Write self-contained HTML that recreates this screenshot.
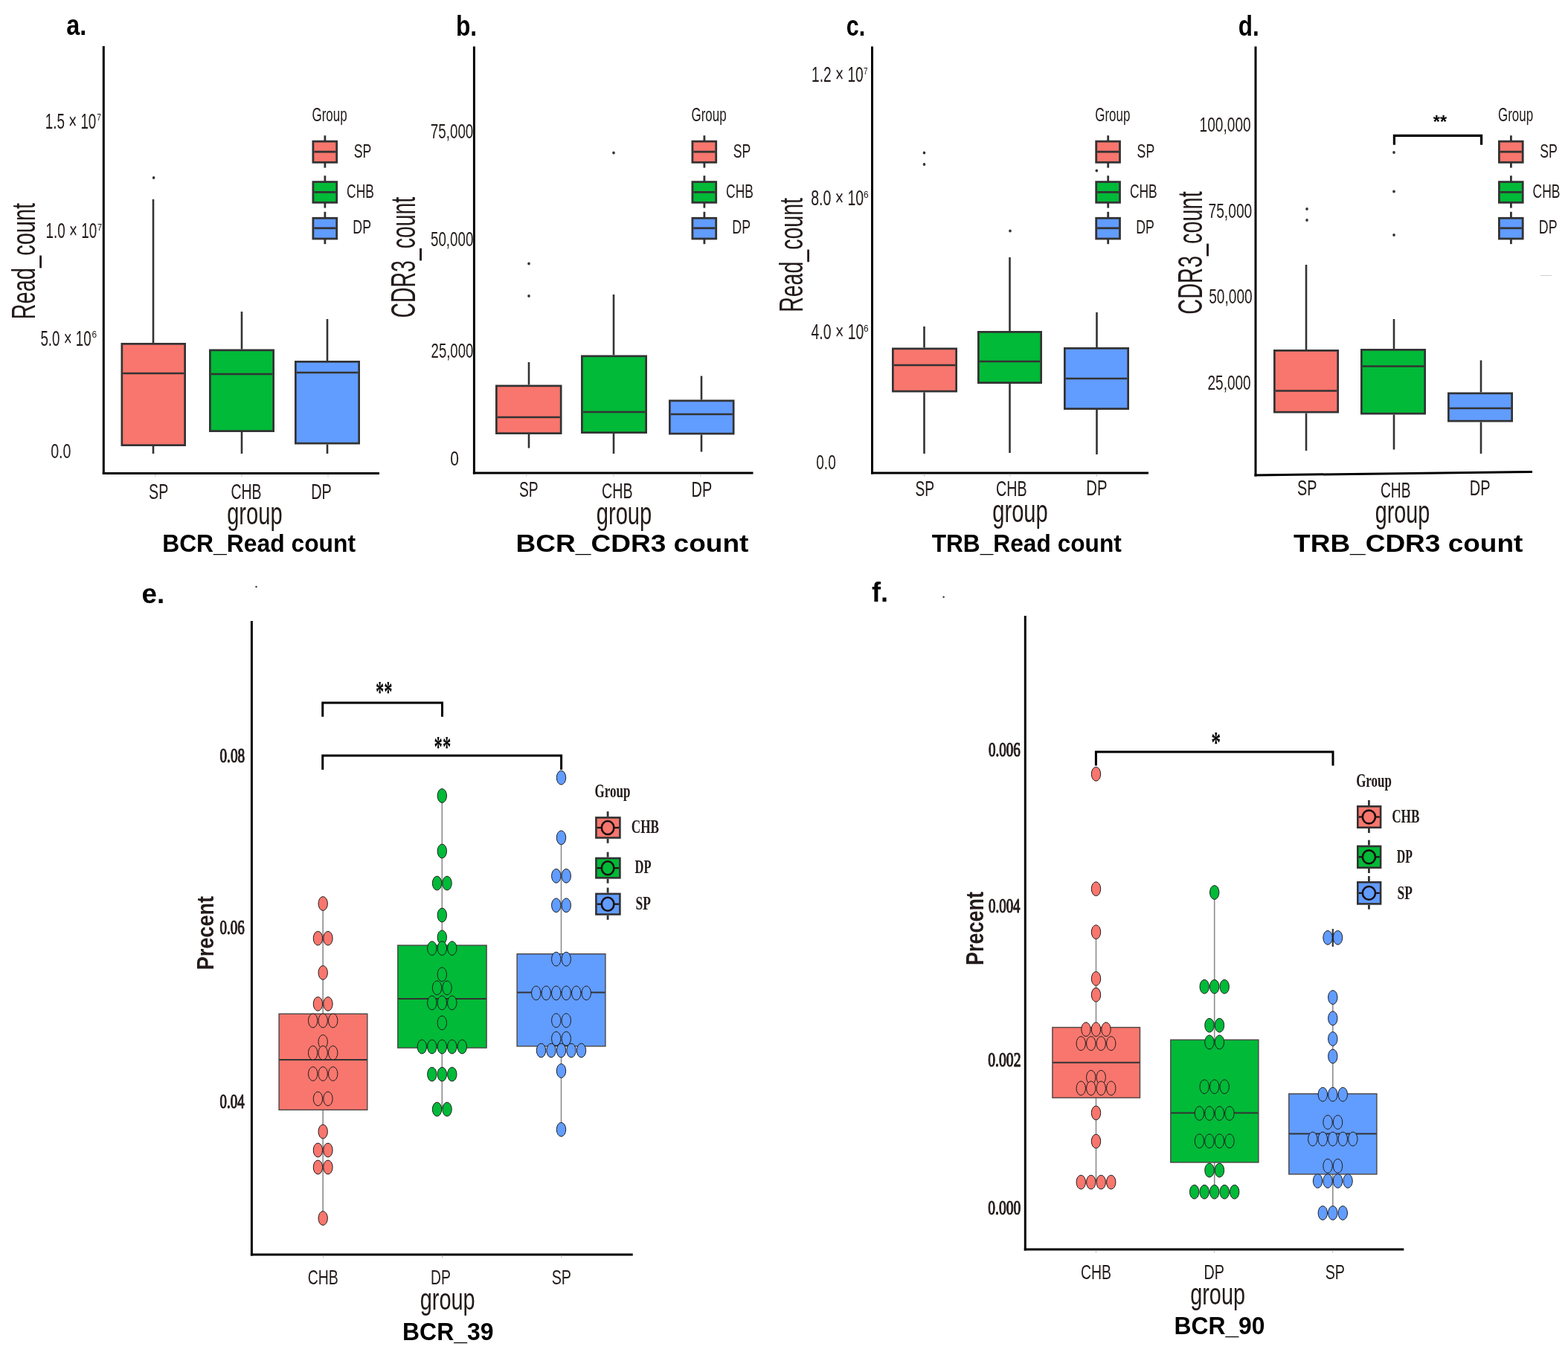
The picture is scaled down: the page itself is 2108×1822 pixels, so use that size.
<!DOCTYPE html>
<html><head><meta charset="utf-8"><title>Figure</title>
<style>html,body{margin:0;padding:0;background:#fff;}svg{display:block;}</style></head>
<body><svg width="2108" height="1822" viewBox="0 0 2108 1822">
<rect width="2108" height="1822" fill="#fff"/>
<text transform="translate(89.15 46.9) scale(0.8401 1)" font-family="'Liberation Sans', Arial, sans-serif" font-weight="bold" font-size="38.5" fill="#000">a.</text>
<line x1="139.3" y1="62" x2="139.3" y2="638" stroke="#000" stroke-width="3" stroke-linecap="butt"/>
<line x1="137.8" y1="636.5" x2="510" y2="636.5" stroke="#000" stroke-width="3" stroke-linecap="butt"/>
<line x1="208.7" y1="638" x2="208.7" y2="641" stroke="#bbbbbb" stroke-width="1" stroke-linecap="butt"/>
<line x1="325" y1="638" x2="325" y2="641" stroke="#bbbbbb" stroke-width="1" stroke-linecap="butt"/>
<line x1="441" y1="638" x2="441" y2="641" stroke="#bbbbbb" stroke-width="1" stroke-linecap="butt"/>
<text transform="translate(60.87 172.6) scale(0.6394 1)" font-family="'Liberation Sans', Arial, sans-serif" font-weight="normal" font-size="29.4" fill="#231a1a">1.5 × 10</text>
<text transform="translate(130.27 161.8) scale(0.7774 1)" font-family="'Liberation Sans', Arial, sans-serif" font-weight="normal" font-size="13.3" fill="#231a1a">7</text>
<text transform="translate(61.56 320.3) scale(0.6413 1)" font-family="'Liberation Sans', Arial, sans-serif" font-weight="normal" font-size="29.4" fill="#231a1a">1.0 × 10</text>
<text transform="translate(130.94 309.5) scale(0.8270 1)" font-family="'Liberation Sans', Arial, sans-serif" font-weight="normal" font-size="13.3" fill="#231a1a">7</text>
<text transform="translate(54.45 464.6) scale(0.6377 1)" font-family="'Liberation Sans', Arial, sans-serif" font-weight="normal" font-size="29.4" fill="#231a1a">5.0 × 10</text>
<text transform="translate(123.39 453.8) scale(0.8962 1)" font-family="'Liberation Sans', Arial, sans-serif" font-weight="normal" font-size="13.3" fill="#231a1a">6</text>
<text transform="translate(68.13 615.5) scale(0.6924 1)" font-family="'Liberation Sans', Arial, sans-serif" font-weight="normal" font-size="28.4" fill="#231a1a">0.0</text>
<text transform="translate(47 429.38) rotate(-90) scale(0.6410 1)" font-family="'Liberation Sans', Arial, sans-serif" font-weight="normal" font-size="45.3" fill="#231a1a">Read_count</text>
<text transform="translate(200.11 670.8) scale(0.6598 1)" font-family="'Liberation Sans', Arial, sans-serif" font-weight="normal" font-size="29.8" fill="#231a1a">SP</text>
<text transform="translate(310.51 670.8) scale(0.6535 1)" font-family="'Liberation Sans', Arial, sans-serif" font-weight="normal" font-size="29.8" fill="#231a1a">CHB</text>
<text transform="translate(418.17 670.8) scale(0.6661 1)" font-family="'Liberation Sans', Arial, sans-serif" font-weight="normal" font-size="29.8" fill="#231a1a">DP</text>
<text transform="translate(305.18 704.6) scale(0.6801 1)" font-family="'Liberation Sans', Arial, sans-serif" font-weight="normal" font-size="42.8" fill="#231a1a">group</text>
<text transform="translate(218.17 741.5) scale(0.9557 1)" font-family="'Liberation Sans', Arial, sans-serif" font-weight="bold" font-size="33.3" fill="#000">BCR_Read count</text>
<line x1="206" y1="268" x2="206" y2="461" stroke="#333333" stroke-width="2.6" stroke-linecap="butt"/>
<line x1="206" y1="600" x2="206" y2="610" stroke="#333333" stroke-width="2.6" stroke-linecap="butt"/>
<rect x="163.85" y="462.35" width="84.8" height="136.3" fill="#F8766D" stroke="#333333" stroke-width="2.7"/>
<line x1="165.2" y1="502" x2="247.3" y2="502" stroke="#333333" stroke-width="2.7" stroke-linecap="butt"/>
<ellipse cx="206.6" cy="239" rx="1.8" ry="2.1" fill="#333333"/>
<line x1="325" y1="419" x2="325" y2="469.5" stroke="#333333" stroke-width="2.6" stroke-linecap="butt"/>
<line x1="325" y1="581" x2="325" y2="610" stroke="#333333" stroke-width="2.6" stroke-linecap="butt"/>
<rect x="282.35" y="470.85" width="85.3" height="108.8" fill="#00BA38" stroke="#333333" stroke-width="2.7"/>
<line x1="283.7" y1="503" x2="366.3" y2="503" stroke="#333333" stroke-width="2.7" stroke-linecap="butt"/>
<line x1="440" y1="429" x2="440" y2="485" stroke="#333333" stroke-width="2.6" stroke-linecap="butt"/>
<line x1="440" y1="597.5" x2="440" y2="610" stroke="#333333" stroke-width="2.6" stroke-linecap="butt"/>
<rect x="397.35" y="486.35" width="85.3" height="109.8" fill="#619CFF" stroke="#333333" stroke-width="2.7"/>
<line x1="398.7" y1="501" x2="481.3" y2="501" stroke="#333333" stroke-width="2.7" stroke-linecap="butt"/>
<text transform="translate(419.45 163.4) scale(0.6708 1)" font-family="'Liberation Sans', Arial, sans-serif" font-weight="normal" font-size="25.3" fill="#231a1a">Group</text>
<line x1="436.9" y1="182.2" x2="436.9" y2="219.7" stroke="#333333" stroke-width="2.8" stroke-linecap="butt"/>
<line x1="436.9" y1="188.7" x2="436.9" y2="225.6" stroke="#333333" stroke-width="2.8" stroke-linecap="butt"/>
<rect x="420.9" y="190.1" width="31.8" height="28.2" fill="#F8766D" stroke="#333333" stroke-width="2.8"/>
<line x1="422.3" y1="204.1" x2="451.3" y2="204.1" stroke="#333333" stroke-width="2.8" stroke-linecap="butt"/>
<text transform="translate(475.8 211.5) scale(0.7004 1)" font-family="'Liberation Sans', Arial, sans-serif" font-weight="normal" font-size="25.3" fill="#231a1a">SP</text>
<line x1="436.9" y1="236.2" x2="436.9" y2="273.7" stroke="#333333" stroke-width="2.8" stroke-linecap="butt"/>
<line x1="436.9" y1="243.2" x2="436.9" y2="279.6" stroke="#333333" stroke-width="2.8" stroke-linecap="butt"/>
<rect x="420.9" y="244.6" width="31.8" height="27.7" fill="#00BA38" stroke="#333333" stroke-width="2.8"/>
<line x1="422.3" y1="258.4" x2="451.3" y2="258.4" stroke="#333333" stroke-width="2.8" stroke-linecap="butt"/>
<text transform="translate(466.11 266.1) scale(0.6890 1)" font-family="'Liberation Sans', Arial, sans-serif" font-weight="normal" font-size="25.3" fill="#231a1a">CHB</text>
<line x1="436.9" y1="284.8" x2="436.9" y2="322.4" stroke="#333333" stroke-width="2.8" stroke-linecap="butt"/>
<line x1="436.9" y1="291.9" x2="436.9" y2="328.2" stroke="#333333" stroke-width="2.8" stroke-linecap="butt"/>
<rect x="420.9" y="293.3" width="31.8" height="27.7" fill="#619CFF" stroke="#333333" stroke-width="2.8"/>
<line x1="422.3" y1="306.8" x2="451.3" y2="306.8" stroke="#333333" stroke-width="2.8" stroke-linecap="butt"/>
<text transform="translate(474.34 313.6) scale(0.7027 1)" font-family="'Liberation Sans', Arial, sans-serif" font-weight="normal" font-size="25.3" fill="#231a1a">DP</text>
<text transform="translate(612.9 47.5) scale(0.8269 1)" font-family="'Liberation Sans', Arial, sans-serif" font-weight="bold" font-size="38.5" fill="#000">b.</text>
<line x1="637.4" y1="62.5" x2="637.4" y2="637.5" stroke="#000" stroke-width="3" stroke-linecap="butt"/>
<line x1="635.9" y1="636" x2="1012.5" y2="636" stroke="#000" stroke-width="3" stroke-linecap="butt"/>
<line x1="708" y1="637.5" x2="708" y2="640.5" stroke="#bbbbbb" stroke-width="1" stroke-linecap="butt"/>
<line x1="825" y1="637.5" x2="825" y2="640.5" stroke="#bbbbbb" stroke-width="1" stroke-linecap="butt"/>
<line x1="942" y1="637.5" x2="942" y2="640.5" stroke="#bbbbbb" stroke-width="1" stroke-linecap="butt"/>
<text transform="translate(578.84 185.5) scale(0.6619 1)" font-family="'Liberation Sans', Arial, sans-serif" font-weight="normal" font-size="28.4" fill="#231a1a">75,000</text>
<text transform="translate(579.05 330.9) scale(0.6594 1)" font-family="'Liberation Sans', Arial, sans-serif" font-weight="normal" font-size="28.4" fill="#231a1a">50,000</text>
<text transform="translate(579.57 480.5) scale(0.6534 1)" font-family="'Liberation Sans', Arial, sans-serif" font-weight="normal" font-size="28.4" fill="#231a1a">25,000</text>
<text transform="translate(605.18 626) scale(0.7366 1)" font-family="'Liberation Sans', Arial, sans-serif" font-weight="normal" font-size="28.4" fill="#231a1a">0</text>
<text transform="translate(557.5 427.44) rotate(-90) scale(0.6203 1)" font-family="'Liberation Sans', Arial, sans-serif" font-weight="normal" font-size="45.8" fill="#231a1a">CDR3_count</text>
<text transform="translate(697.88 667.5) scale(0.6449 1)" font-family="'Liberation Sans', Arial, sans-serif" font-weight="normal" font-size="29.8" fill="#231a1a">SP</text>
<text transform="translate(809 670) scale(0.6602 1)" font-family="'Liberation Sans', Arial, sans-serif" font-weight="normal" font-size="29.8" fill="#231a1a">CHB</text>
<text transform="translate(929.62 667.5) scale(0.6688 1)" font-family="'Liberation Sans', Arial, sans-serif" font-weight="normal" font-size="29.8" fill="#231a1a">DP</text>
<text transform="translate(801.78 704.6) scale(0.6801 1)" font-family="'Liberation Sans', Arial, sans-serif" font-weight="normal" font-size="42.8" fill="#231a1a">group</text>
<text transform="translate(693.52 741.5) scale(1.1128 1)" font-family="'Liberation Sans', Arial, sans-serif" font-weight="bold" font-size="33.3" fill="#000">BCR_CDR3 count</text>
<line x1="711" y1="487" x2="711" y2="517.5" stroke="#333333" stroke-width="2.6" stroke-linecap="butt"/>
<line x1="711" y1="584" x2="711" y2="602.5" stroke="#333333" stroke-width="2.6" stroke-linecap="butt"/>
<rect x="667.35" y="518.85" width="86.8" height="63.8" fill="#F8766D" stroke="#333333" stroke-width="2.7"/>
<line x1="668.7" y1="561" x2="752.8" y2="561" stroke="#333333" stroke-width="2.7" stroke-linecap="butt"/>
<ellipse cx="711" cy="354.5" rx="1.8" ry="2.1" fill="#333333"/>
<ellipse cx="711" cy="398" rx="1.8" ry="2.1" fill="#333333"/>
<line x1="825" y1="396" x2="825" y2="477.5" stroke="#333333" stroke-width="2.6" stroke-linecap="butt"/>
<line x1="825" y1="583" x2="825" y2="610" stroke="#333333" stroke-width="2.6" stroke-linecap="butt"/>
<rect x="782.35" y="478.85" width="86.3" height="102.8" fill="#00BA38" stroke="#333333" stroke-width="2.7"/>
<line x1="783.7" y1="554" x2="867.3" y2="554" stroke="#333333" stroke-width="2.7" stroke-linecap="butt"/>
<ellipse cx="825" cy="205.5" rx="1.8" ry="2.1" fill="#333333"/>
<line x1="943" y1="505.5" x2="943" y2="537.5" stroke="#333333" stroke-width="2.6" stroke-linecap="butt"/>
<line x1="943" y1="584.5" x2="943" y2="607.5" stroke="#333333" stroke-width="2.6" stroke-linecap="butt"/>
<rect x="900.35" y="538.85" width="85.8" height="44.3" fill="#619CFF" stroke="#333333" stroke-width="2.7"/>
<line x1="901.7" y1="557" x2="984.8" y2="557" stroke="#333333" stroke-width="2.7" stroke-linecap="butt"/>
<text transform="translate(929.45 163.4) scale(0.6708 1)" font-family="'Liberation Sans', Arial, sans-serif" font-weight="normal" font-size="25.3" fill="#231a1a">Group</text>
<line x1="946.9" y1="182.2" x2="946.9" y2="219.7" stroke="#333333" stroke-width="2.8" stroke-linecap="butt"/>
<line x1="946.9" y1="188.7" x2="946.9" y2="225.6" stroke="#333333" stroke-width="2.8" stroke-linecap="butt"/>
<rect x="930.9" y="190.1" width="31.8" height="28.2" fill="#F8766D" stroke="#333333" stroke-width="2.8"/>
<line x1="932.3" y1="204.1" x2="961.3" y2="204.1" stroke="#333333" stroke-width="2.8" stroke-linecap="butt"/>
<text transform="translate(985.8 211.5) scale(0.7004 1)" font-family="'Liberation Sans', Arial, sans-serif" font-weight="normal" font-size="25.3" fill="#231a1a">SP</text>
<line x1="946.9" y1="236.2" x2="946.9" y2="273.7" stroke="#333333" stroke-width="2.8" stroke-linecap="butt"/>
<line x1="946.9" y1="243.2" x2="946.9" y2="279.6" stroke="#333333" stroke-width="2.8" stroke-linecap="butt"/>
<rect x="930.9" y="244.6" width="31.8" height="27.7" fill="#00BA38" stroke="#333333" stroke-width="2.8"/>
<line x1="932.3" y1="258.4" x2="961.3" y2="258.4" stroke="#333333" stroke-width="2.8" stroke-linecap="butt"/>
<text transform="translate(976.11 266.1) scale(0.6890 1)" font-family="'Liberation Sans', Arial, sans-serif" font-weight="normal" font-size="25.3" fill="#231a1a">CHB</text>
<line x1="946.9" y1="284.8" x2="946.9" y2="322.4" stroke="#333333" stroke-width="2.8" stroke-linecap="butt"/>
<line x1="946.9" y1="291.9" x2="946.9" y2="328.2" stroke="#333333" stroke-width="2.8" stroke-linecap="butt"/>
<rect x="930.9" y="293.3" width="31.8" height="27.7" fill="#619CFF" stroke="#333333" stroke-width="2.8"/>
<line x1="932.3" y1="306.8" x2="961.3" y2="306.8" stroke="#333333" stroke-width="2.8" stroke-linecap="butt"/>
<text transform="translate(984.34 313.6) scale(0.7027 1)" font-family="'Liberation Sans', Arial, sans-serif" font-weight="normal" font-size="25.3" fill="#231a1a">DP</text>
<text transform="translate(1137.82 47.5) scale(0.7870 1)" font-family="'Liberation Sans', Arial, sans-serif" font-weight="bold" font-size="38.5" fill="#000">c.</text>
<line x1="1172.5" y1="62.5" x2="1172.5" y2="637.5" stroke="#000" stroke-width="3" stroke-linecap="butt"/>
<line x1="1171" y1="636" x2="1544" y2="636" stroke="#000" stroke-width="3" stroke-linecap="butt"/>
<line x1="1242.5" y1="637.5" x2="1242.5" y2="640.5" stroke="#bbbbbb" stroke-width="1" stroke-linecap="butt"/>
<line x1="1358" y1="637.5" x2="1358" y2="640.5" stroke="#bbbbbb" stroke-width="1" stroke-linecap="butt"/>
<line x1="1474.5" y1="637.5" x2="1474.5" y2="640.5" stroke="#bbbbbb" stroke-width="1" stroke-linecap="butt"/>
<text transform="translate(1091.04 110) scale(0.6510 1)" font-family="'Liberation Sans', Arial, sans-serif" font-weight="normal" font-size="29.4" fill="#231a1a">1.2 × 10</text>
<text transform="translate(1160.99 99.5) scale(0.7443 1)" font-family="'Liberation Sans', Arial, sans-serif" font-weight="normal" font-size="13.3" fill="#231a1a">7</text>
<text transform="translate(1090.15 276) scale(0.6641 1)" font-family="'Liberation Sans', Arial, sans-serif" font-weight="normal" font-size="29.4" fill="#231a1a">8.0 × 10</text>
<text transform="translate(1160.89 265.5) scale(0.8962 1)" font-family="'Liberation Sans', Arial, sans-serif" font-weight="normal" font-size="13.3" fill="#231a1a">6</text>
<text transform="translate(1090.55 456) scale(0.6603 1)" font-family="'Liberation Sans', Arial, sans-serif" font-weight="normal" font-size="29.4" fill="#231a1a">4.0 × 10</text>
<text transform="translate(1160.89 445.5) scale(0.8962 1)" font-family="'Liberation Sans', Arial, sans-serif" font-weight="normal" font-size="13.3" fill="#231a1a">6</text>
<text transform="translate(1097.26 630.5) scale(0.6709 1)" font-family="'Liberation Sans', Arial, sans-serif" font-weight="normal" font-size="28.4" fill="#231a1a">0.0</text>
<text transform="translate(1078.75 419.84) rotate(-90) scale(0.6541 1)" font-family="'Liberation Sans', Arial, sans-serif" font-weight="normal" font-size="43.6" fill="#231a1a">Read_count</text>
<text transform="translate(1230.38 666.75) scale(0.6449 1)" font-family="'Liberation Sans', Arial, sans-serif" font-weight="normal" font-size="29.8" fill="#231a1a">SP</text>
<text transform="translate(1339 666.75) scale(0.6602 1)" font-family="'Liberation Sans', Arial, sans-serif" font-weight="normal" font-size="29.8" fill="#231a1a">CHB</text>
<text transform="translate(1460.33 666) scale(0.6822 1)" font-family="'Liberation Sans', Arial, sans-serif" font-weight="normal" font-size="29.8" fill="#231a1a">DP</text>
<text transform="translate(1334.28 702) scale(0.6801 1)" font-family="'Liberation Sans', Arial, sans-serif" font-weight="normal" font-size="42.8" fill="#231a1a">group</text>
<text transform="translate(1252.64 741.5) scale(0.9514 1)" font-family="'Liberation Sans', Arial, sans-serif" font-weight="bold" font-size="33.3" fill="#000">TRB_Read count</text>
<line x1="1242.5" y1="439" x2="1242.5" y2="467.5" stroke="#333333" stroke-width="2.6" stroke-linecap="butt"/>
<line x1="1242.5" y1="527.5" x2="1242.5" y2="610" stroke="#333333" stroke-width="2.6" stroke-linecap="butt"/>
<rect x="1200.35" y="468.85" width="85.3" height="57.3" fill="#F8766D" stroke="#333333" stroke-width="2.7"/>
<line x1="1201.7" y1="491" x2="1284.3" y2="491" stroke="#333333" stroke-width="2.7" stroke-linecap="butt"/>
<ellipse cx="1242.5" cy="205.5" rx="1.8" ry="2.1" fill="#333333"/>
<ellipse cx="1242.5" cy="221" rx="1.8" ry="2.1" fill="#333333"/>
<line x1="1357.5" y1="346" x2="1357.5" y2="445" stroke="#333333" stroke-width="2.6" stroke-linecap="butt"/>
<line x1="1357.5" y1="516" x2="1357.5" y2="609" stroke="#333333" stroke-width="2.6" stroke-linecap="butt"/>
<rect x="1315.35" y="446.35" width="84.3" height="68.3" fill="#00BA38" stroke="#333333" stroke-width="2.7"/>
<line x1="1316.7" y1="486" x2="1398.3" y2="486" stroke="#333333" stroke-width="2.7" stroke-linecap="butt"/>
<ellipse cx="1358" cy="310.5" rx="1.8" ry="2.1" fill="#333333"/>
<line x1="1474.5" y1="420" x2="1474.5" y2="467" stroke="#333333" stroke-width="2.6" stroke-linecap="butt"/>
<line x1="1474.5" y1="551" x2="1474.5" y2="611" stroke="#333333" stroke-width="2.6" stroke-linecap="butt"/>
<rect x="1431.35" y="468.35" width="85.3" height="81.3" fill="#619CFF" stroke="#333333" stroke-width="2.7"/>
<line x1="1432.7" y1="509" x2="1515.3" y2="509" stroke="#333333" stroke-width="2.7" stroke-linecap="butt"/>
<ellipse cx="1474.3" cy="229.5" rx="1.8" ry="2.1" fill="#333333"/>
<text transform="translate(1472.25 163.4) scale(0.6708 1)" font-family="'Liberation Sans', Arial, sans-serif" font-weight="normal" font-size="25.3" fill="#231a1a">Group</text>
<line x1="1489.7" y1="182.2" x2="1489.7" y2="219.7" stroke="#333333" stroke-width="2.8" stroke-linecap="butt"/>
<line x1="1489.7" y1="188.7" x2="1489.7" y2="225.6" stroke="#333333" stroke-width="2.8" stroke-linecap="butt"/>
<rect x="1473.7" y="190.1" width="31.8" height="28.2" fill="#F8766D" stroke="#333333" stroke-width="2.8"/>
<line x1="1475.1" y1="204.1" x2="1504.1" y2="204.1" stroke="#333333" stroke-width="2.8" stroke-linecap="butt"/>
<text transform="translate(1528.6 211.5) scale(0.7004 1)" font-family="'Liberation Sans', Arial, sans-serif" font-weight="normal" font-size="25.3" fill="#231a1a">SP</text>
<line x1="1489.7" y1="236.2" x2="1489.7" y2="273.7" stroke="#333333" stroke-width="2.8" stroke-linecap="butt"/>
<line x1="1489.7" y1="243.2" x2="1489.7" y2="279.6" stroke="#333333" stroke-width="2.8" stroke-linecap="butt"/>
<rect x="1473.7" y="244.6" width="31.8" height="27.7" fill="#00BA38" stroke="#333333" stroke-width="2.8"/>
<line x1="1475.1" y1="258.4" x2="1504.1" y2="258.4" stroke="#333333" stroke-width="2.8" stroke-linecap="butt"/>
<text transform="translate(1518.91 266.1) scale(0.6890 1)" font-family="'Liberation Sans', Arial, sans-serif" font-weight="normal" font-size="25.3" fill="#231a1a">CHB</text>
<line x1="1489.7" y1="284.8" x2="1489.7" y2="322.4" stroke="#333333" stroke-width="2.8" stroke-linecap="butt"/>
<line x1="1489.7" y1="291.9" x2="1489.7" y2="328.2" stroke="#333333" stroke-width="2.8" stroke-linecap="butt"/>
<rect x="1473.7" y="293.3" width="31.8" height="27.7" fill="#619CFF" stroke="#333333" stroke-width="2.8"/>
<line x1="1475.1" y1="306.8" x2="1504.1" y2="306.8" stroke="#333333" stroke-width="2.8" stroke-linecap="butt"/>
<text transform="translate(1527.14 313.6) scale(0.7027 1)" font-family="'Liberation Sans', Arial, sans-serif" font-weight="normal" font-size="25.3" fill="#231a1a">DP</text>
<text transform="translate(1664.71 47.5) scale(0.8171 1)" font-family="'Liberation Sans', Arial, sans-serif" font-weight="bold" font-size="38.5" fill="#000">d.</text>
<line x1="1688" y1="62.5" x2="1688" y2="640.5" stroke="#000" stroke-width="3" stroke-linecap="butt"/>
<line x1="1686.5" y1="639" x2="2060" y2="634.5" stroke="#000" stroke-width="3" stroke-linecap="butt"/>
<text transform="translate(1612.54 177) scale(0.6741 1)" font-family="'Liberation Sans', Arial, sans-serif" font-weight="normal" font-size="28.4" fill="#231a1a">100,000</text>
<text transform="translate(1624.52 292.5) scale(0.6762 1)" font-family="'Liberation Sans', Arial, sans-serif" font-weight="normal" font-size="28.4" fill="#231a1a">75,000</text>
<text transform="translate(1625.23 408) scale(0.6736 1)" font-family="'Liberation Sans', Arial, sans-serif" font-weight="normal" font-size="28.4" fill="#231a1a">50,000</text>
<text transform="translate(1623.54 523.75) scale(0.6700 1)" font-family="'Liberation Sans', Arial, sans-serif" font-weight="normal" font-size="28.4" fill="#231a1a">25,000</text>
<text transform="translate(1615.5 422.72) rotate(-90) scale(0.6282 1)" font-family="'Liberation Sans', Arial, sans-serif" font-weight="normal" font-size="46" fill="#231a1a">CDR3_count</text>
<text transform="translate(1744.1 666) scale(0.6653 1)" font-family="'Liberation Sans', Arial, sans-serif" font-weight="normal" font-size="29.8" fill="#231a1a">SP</text>
<text transform="translate(1856.03 669) scale(0.6435 1)" font-family="'Liberation Sans', Arial, sans-serif" font-weight="normal" font-size="29.8" fill="#231a1a">CHB</text>
<text transform="translate(1975.87 666) scale(0.6688 1)" font-family="'Liberation Sans', Arial, sans-serif" font-weight="normal" font-size="29.8" fill="#231a1a">DP</text>
<text transform="translate(1848.79 703) scale(0.6706 1)" font-family="'Liberation Sans', Arial, sans-serif" font-weight="normal" font-size="42.8" fill="#231a1a">group</text>
<text transform="translate(1739.08 741.5) scale(1.1112 1)" font-family="'Liberation Sans', Arial, sans-serif" font-weight="bold" font-size="33.3" fill="#000">TRB_CDR3 count</text>
<line x1="1756" y1="356" x2="1756" y2="470" stroke="#333333" stroke-width="2.6" stroke-linecap="butt"/>
<line x1="1756" y1="555.5" x2="1756" y2="606" stroke="#333333" stroke-width="2.6" stroke-linecap="butt"/>
<rect x="1713.35" y="471.35" width="85.3" height="82.8" fill="#F8766D" stroke="#333333" stroke-width="2.7"/>
<line x1="1714.7" y1="525.5" x2="1797.3" y2="525.5" stroke="#333333" stroke-width="2.7" stroke-linecap="butt"/>
<ellipse cx="1757" cy="281" rx="1.8" ry="2.1" fill="#333333"/>
<ellipse cx="1757" cy="296" rx="1.8" ry="2.1" fill="#333333"/>
<line x1="1874" y1="429" x2="1874" y2="469" stroke="#333333" stroke-width="2.6" stroke-linecap="butt"/>
<line x1="1874" y1="557.5" x2="1874" y2="604.5" stroke="#333333" stroke-width="2.6" stroke-linecap="butt"/>
<rect x="1830.35" y="470.35" width="85.3" height="85.8" fill="#00BA38" stroke="#333333" stroke-width="2.7"/>
<line x1="1831.7" y1="492.5" x2="1914.3" y2="492.5" stroke="#333333" stroke-width="2.7" stroke-linecap="butt"/>
<ellipse cx="1874" cy="205" rx="1.8" ry="2.1" fill="#333333"/>
<ellipse cx="1874" cy="257.5" rx="1.8" ry="2.1" fill="#333333"/>
<ellipse cx="1874" cy="316" rx="1.8" ry="2.1" fill="#333333"/>
<line x1="1991" y1="484.5" x2="1991" y2="527.5" stroke="#333333" stroke-width="2.6" stroke-linecap="butt"/>
<line x1="1991" y1="567.5" x2="1991" y2="610" stroke="#333333" stroke-width="2.6" stroke-linecap="butt"/>
<rect x="1947.35" y="528.85" width="85.3" height="37.3" fill="#619CFF" stroke="#333333" stroke-width="2.7"/>
<line x1="1948.7" y1="549" x2="2031.3" y2="549" stroke="#333333" stroke-width="2.7" stroke-linecap="butt"/>
<text transform="translate(2013.95 163.4) scale(0.6708 1)" font-family="'Liberation Sans', Arial, sans-serif" font-weight="normal" font-size="25.3" fill="#231a1a">Group</text>
<line x1="2031.4" y1="182.2" x2="2031.4" y2="219.7" stroke="#333333" stroke-width="2.8" stroke-linecap="butt"/>
<line x1="2031.4" y1="188.7" x2="2031.4" y2="225.6" stroke="#333333" stroke-width="2.8" stroke-linecap="butt"/>
<rect x="2015.4" y="190.1" width="31.8" height="28.2" fill="#F8766D" stroke="#333333" stroke-width="2.8"/>
<line x1="2016.8" y1="204.1" x2="2045.8" y2="204.1" stroke="#333333" stroke-width="2.8" stroke-linecap="butt"/>
<text transform="translate(2070.3 211.5) scale(0.7004 1)" font-family="'Liberation Sans', Arial, sans-serif" font-weight="normal" font-size="25.3" fill="#231a1a">SP</text>
<line x1="2031.4" y1="236.2" x2="2031.4" y2="273.7" stroke="#333333" stroke-width="2.8" stroke-linecap="butt"/>
<line x1="2031.4" y1="243.2" x2="2031.4" y2="279.6" stroke="#333333" stroke-width="2.8" stroke-linecap="butt"/>
<rect x="2015.4" y="244.6" width="31.8" height="27.7" fill="#00BA38" stroke="#333333" stroke-width="2.8"/>
<line x1="2016.8" y1="258.4" x2="2045.8" y2="258.4" stroke="#333333" stroke-width="2.8" stroke-linecap="butt"/>
<text transform="translate(2060.61 266.1) scale(0.6890 1)" font-family="'Liberation Sans', Arial, sans-serif" font-weight="normal" font-size="25.3" fill="#231a1a">CHB</text>
<line x1="2031.4" y1="284.8" x2="2031.4" y2="322.4" stroke="#333333" stroke-width="2.8" stroke-linecap="butt"/>
<line x1="2031.4" y1="291.9" x2="2031.4" y2="328.2" stroke="#333333" stroke-width="2.8" stroke-linecap="butt"/>
<rect x="2015.4" y="293.3" width="31.8" height="27.7" fill="#619CFF" stroke="#333333" stroke-width="2.8"/>
<line x1="2016.8" y1="306.8" x2="2045.8" y2="306.8" stroke="#333333" stroke-width="2.8" stroke-linecap="butt"/>
<text transform="translate(2068.84 313.6) scale(0.7027 1)" font-family="'Liberation Sans', Arial, sans-serif" font-weight="normal" font-size="25.3" fill="#231a1a">DP</text>
<path d="M1874.4 194.7 V182.3 H1991.6 V194.7" fill="none" stroke="#000" stroke-width="3.2"/>
<text transform="translate(1926.83 171.63) scale(0.9556 1)" font-family="'Liberation Sans', Arial, sans-serif" font-weight="bold" font-size="24.46" fill="#000">**</text>
<line x1="2071" y1="370.5" x2="2086" y2="370.5" stroke="#cccccc" stroke-width="1" stroke-linecap="butt"/>
<text transform="translate(190.56 811) scale(0.9957 1)" font-family="'Liberation Sans', Arial, sans-serif" font-weight="bold" font-size="37" fill="#000">e.</text>
<circle cx="344.5" cy="789" r="1.2" fill="#333"/>
<line x1="338.4" y1="835" x2="338.4" y2="1688.5" stroke="#000" stroke-width="3" stroke-linecap="butt"/>
<line x1="336.9" y1="1687" x2="850.7" y2="1687" stroke="#000" stroke-width="3" stroke-linecap="butt"/>
<line x1="434.8" y1="1688.5" x2="434.8" y2="1691.5" stroke="#bbbbbb" stroke-width="1" stroke-linecap="butt"/>
<line x1="594.5" y1="1688.5" x2="594.5" y2="1691.5" stroke="#bbbbbb" stroke-width="1" stroke-linecap="butt"/>
<line x1="754.8" y1="1688.5" x2="754.8" y2="1691.5" stroke="#bbbbbb" stroke-width="1" stroke-linecap="butt"/>
<text transform="translate(295.49 1025.4) scale(0.7075 1)" font-family="'Liberation Serif', 'Times New Roman', serif" font-weight="normal" font-size="27.23" fill="#231a1a" stroke="#231a1a" stroke-width="1.2" stroke-linejoin="round">0.08</text>
<text transform="translate(295.59 1256) scale(0.6977 1)" font-family="'Liberation Serif', 'Times New Roman', serif" font-weight="normal" font-size="27.23" fill="#231a1a" stroke="#231a1a" stroke-width="1.2" stroke-linejoin="round">0.06</text>
<text transform="translate(295.6 1489.6) scale(0.6921 1)" font-family="'Liberation Serif', 'Times New Roman', serif" font-weight="normal" font-size="27.23" fill="#231a1a" stroke="#231a1a" stroke-width="1.2" stroke-linejoin="round">0.04</text>
<text transform="translate(286.7 1304.31) rotate(-90) scale(0.8471 1)" font-family="'Liberation Sans', Arial, sans-serif" font-weight="bold" font-size="32" fill="#231a1a">Precent</text>
<text transform="translate(413.71 1727.3) scale(0.6881 1)" font-family="'Liberation Sans', Arial, sans-serif" font-weight="normal" font-size="28.3" fill="#231a1a">CHB</text>
<text transform="translate(579.11 1727.3) scale(0.6845 1)" font-family="'Liberation Sans', Arial, sans-serif" font-weight="normal" font-size="28.3" fill="#231a1a">DP</text>
<text transform="translate(741.7 1727.3) scale(0.6977 1)" font-family="'Liberation Sans', Arial, sans-serif" font-weight="normal" font-size="28.3" fill="#231a1a">SP</text>
<text transform="translate(564.68 1761.2) scale(0.7147 1)" font-family="'Liberation Sans', Arial, sans-serif" font-weight="normal" font-size="40.5" fill="#231a1a">group</text>
<text transform="translate(541.06 1801.6) scale(0.9703 1)" font-family="'Liberation Sans', Arial, sans-serif" font-weight="bold" font-size="32.9" fill="#000">BCR_39</text>
<path d="M433.75 963.75 V945 H594.5 V963.75" fill="none" stroke="#000" stroke-width="3.0"/>
<path d="M433.75 1035 V1016 H754.6 V1035" fill="none" stroke="#000" stroke-width="3.0"/>
<text transform="translate(505.06 943.25) scale(0.5673 1)" font-family="'Liberation Serif', 'Times New Roman', serif" font-weight="bold" font-size="39.79" fill="#000">**</text>
<text transform="translate(583.56 1016.73) scale(0.5817 1)" font-family="'Liberation Serif', 'Times New Roman', serif" font-weight="bold" font-size="39" fill="#000">**</text>
<line x1="434.2" y1="1215" x2="434.2" y2="1638" stroke="#8c8c8c" stroke-width="1.6" stroke-linecap="butt"/>
<rect x="375.1" y="1363.3" width="118.7" height="129.1" fill="#F8766D" stroke="#4a4444" stroke-width="1.4"/>
<line x1="375.4" y1="1424.9" x2="493.5" y2="1424.9" stroke="#333" stroke-width="2" stroke-linecap="butt"/>
<ellipse cx="434.2" cy="1215" rx="6.2" ry="9.4" fill="#F8766D" stroke="#1e1e1e" stroke-width="1"/>
<ellipse cx="427.45" cy="1261.7" rx="6.2" ry="9.4" fill="#F8766D" stroke="#1e1e1e" stroke-width="1"/>
<ellipse cx="440.95" cy="1261.7" rx="6.2" ry="9.4" fill="#F8766D" stroke="#1e1e1e" stroke-width="1"/>
<ellipse cx="434.2" cy="1307.9" rx="6.2" ry="9.4" fill="#F8766D" stroke="#1e1e1e" stroke-width="1"/>
<ellipse cx="427.45" cy="1349.9" rx="6.2" ry="9.4" fill="#F8766D" stroke="#1e1e1e" stroke-width="1"/>
<ellipse cx="440.95" cy="1349.9" rx="6.2" ry="9.4" fill="#F8766D" stroke="#1e1e1e" stroke-width="1"/>
<ellipse cx="420.7" cy="1372.4" rx="6.2" ry="9.4" fill="#F8766D" stroke="#1e1e1e" stroke-width="1"/>
<ellipse cx="434.2" cy="1372.4" rx="6.2" ry="9.4" fill="#F8766D" stroke="#1e1e1e" stroke-width="1"/>
<ellipse cx="447.7" cy="1372.4" rx="6.2" ry="9.4" fill="#F8766D" stroke="#1e1e1e" stroke-width="1"/>
<ellipse cx="434.2" cy="1400.9" rx="6.2" ry="9.4" fill="#F8766D" stroke="#1e1e1e" stroke-width="1"/>
<ellipse cx="420.7" cy="1415.7" rx="6.2" ry="9.4" fill="#F8766D" stroke="#1e1e1e" stroke-width="1"/>
<ellipse cx="434.2" cy="1415.7" rx="6.2" ry="9.4" fill="#F8766D" stroke="#1e1e1e" stroke-width="1"/>
<ellipse cx="447.7" cy="1415.7" rx="6.2" ry="9.4" fill="#F8766D" stroke="#1e1e1e" stroke-width="1"/>
<ellipse cx="420.7" cy="1443.9" rx="6.2" ry="9.4" fill="#F8766D" stroke="#1e1e1e" stroke-width="1"/>
<ellipse cx="434.2" cy="1443.9" rx="6.2" ry="9.4" fill="#F8766D" stroke="#1e1e1e" stroke-width="1"/>
<ellipse cx="447.7" cy="1443.9" rx="6.2" ry="9.4" fill="#F8766D" stroke="#1e1e1e" stroke-width="1"/>
<ellipse cx="427.45" cy="1477.4" rx="6.2" ry="9.4" fill="#F8766D" stroke="#1e1e1e" stroke-width="1"/>
<ellipse cx="440.95" cy="1477.4" rx="6.2" ry="9.4" fill="#F8766D" stroke="#1e1e1e" stroke-width="1"/>
<ellipse cx="434.2" cy="1521.6" rx="6.2" ry="9.4" fill="#F8766D" stroke="#1e1e1e" stroke-width="1"/>
<ellipse cx="427.45" cy="1546.5" rx="6.2" ry="9.4" fill="#F8766D" stroke="#1e1e1e" stroke-width="1"/>
<ellipse cx="440.95" cy="1546.5" rx="6.2" ry="9.4" fill="#F8766D" stroke="#1e1e1e" stroke-width="1"/>
<ellipse cx="427.45" cy="1569.5" rx="6.2" ry="9.4" fill="#F8766D" stroke="#1e1e1e" stroke-width="1"/>
<ellipse cx="440.95" cy="1569.5" rx="6.2" ry="9.4" fill="#F8766D" stroke="#1e1e1e" stroke-width="1"/>
<ellipse cx="434.2" cy="1638.1" rx="6.2" ry="9.4" fill="#F8766D" stroke="#1e1e1e" stroke-width="1"/>
<line x1="594.3" y1="1070" x2="594.3" y2="1491.6" stroke="#8c8c8c" stroke-width="1.6" stroke-linecap="butt"/>
<rect x="534.8" y="1271.1" width="119.3" height="137.9" fill="#00BA38" stroke="#4a4444" stroke-width="1.4"/>
<line x1="535.1" y1="1342.9" x2="653.8" y2="1342.9" stroke="#333" stroke-width="2" stroke-linecap="butt"/>
<ellipse cx="594.3" cy="1070" rx="6.2" ry="9.4" fill="#00BA38" stroke="#1e1e1e" stroke-width="1"/>
<ellipse cx="594.3" cy="1144.5" rx="6.2" ry="9.4" fill="#00BA38" stroke="#1e1e1e" stroke-width="1"/>
<ellipse cx="587.55" cy="1187.6" rx="6.2" ry="9.4" fill="#00BA38" stroke="#1e1e1e" stroke-width="1"/>
<ellipse cx="601.05" cy="1187.6" rx="6.2" ry="9.4" fill="#00BA38" stroke="#1e1e1e" stroke-width="1"/>
<ellipse cx="594.3" cy="1230.5" rx="6.2" ry="9.4" fill="#00BA38" stroke="#1e1e1e" stroke-width="1"/>
<ellipse cx="594.3" cy="1260.3" rx="6.2" ry="9.4" fill="#00BA38" stroke="#1e1e1e" stroke-width="1"/>
<ellipse cx="580.8" cy="1275.1" rx="6.2" ry="9.4" fill="#00BA38" stroke="#1e1e1e" stroke-width="1"/>
<ellipse cx="594.3" cy="1275.1" rx="6.2" ry="9.4" fill="#00BA38" stroke="#1e1e1e" stroke-width="1"/>
<ellipse cx="607.8" cy="1275.1" rx="6.2" ry="9.4" fill="#00BA38" stroke="#1e1e1e" stroke-width="1"/>
<ellipse cx="594.3" cy="1310.3" rx="6.2" ry="9.4" fill="#00BA38" stroke="#1e1e1e" stroke-width="1"/>
<ellipse cx="587.55" cy="1328.3" rx="6.2" ry="9.4" fill="#00BA38" stroke="#1e1e1e" stroke-width="1"/>
<ellipse cx="601.05" cy="1328.3" rx="6.2" ry="9.4" fill="#00BA38" stroke="#1e1e1e" stroke-width="1"/>
<ellipse cx="580.8" cy="1348.4" rx="6.2" ry="9.4" fill="#00BA38" stroke="#1e1e1e" stroke-width="1"/>
<ellipse cx="594.3" cy="1348.4" rx="6.2" ry="9.4" fill="#00BA38" stroke="#1e1e1e" stroke-width="1"/>
<ellipse cx="607.8" cy="1348.4" rx="6.2" ry="9.4" fill="#00BA38" stroke="#1e1e1e" stroke-width="1"/>
<ellipse cx="594.3" cy="1375.4" rx="6.2" ry="9.4" fill="#00BA38" stroke="#1e1e1e" stroke-width="1"/>
<ellipse cx="567.3" cy="1407.5" rx="6.2" ry="9.4" fill="#00BA38" stroke="#1e1e1e" stroke-width="1"/>
<ellipse cx="580.8" cy="1407.5" rx="6.2" ry="9.4" fill="#00BA38" stroke="#1e1e1e" stroke-width="1"/>
<ellipse cx="594.3" cy="1407.5" rx="6.2" ry="9.4" fill="#00BA38" stroke="#1e1e1e" stroke-width="1"/>
<ellipse cx="607.8" cy="1407.5" rx="6.2" ry="9.4" fill="#00BA38" stroke="#1e1e1e" stroke-width="1"/>
<ellipse cx="621.3" cy="1407.5" rx="6.2" ry="9.4" fill="#00BA38" stroke="#1e1e1e" stroke-width="1"/>
<ellipse cx="580.8" cy="1444.5" rx="6.2" ry="9.4" fill="#00BA38" stroke="#1e1e1e" stroke-width="1"/>
<ellipse cx="594.3" cy="1444.5" rx="6.2" ry="9.4" fill="#00BA38" stroke="#1e1e1e" stroke-width="1"/>
<ellipse cx="607.8" cy="1444.5" rx="6.2" ry="9.4" fill="#00BA38" stroke="#1e1e1e" stroke-width="1"/>
<ellipse cx="587.55" cy="1491.6" rx="6.2" ry="9.4" fill="#00BA38" stroke="#1e1e1e" stroke-width="1"/>
<ellipse cx="601.05" cy="1491.6" rx="6.2" ry="9.4" fill="#00BA38" stroke="#1e1e1e" stroke-width="1"/>
<line x1="754.5" y1="1126.3" x2="754.5" y2="1518.8" stroke="#8c8c8c" stroke-width="1.6" stroke-linecap="butt"/>
<rect x="695.1" y="1282.7" width="118.8" height="124.1" fill="#619CFF" stroke="#4a4444" stroke-width="1.4"/>
<line x1="695.4" y1="1334.5" x2="813.6" y2="1334.5" stroke="#333" stroke-width="2" stroke-linecap="butt"/>
<ellipse cx="754.5" cy="1045.7" rx="6.2" ry="9.4" fill="#619CFF" stroke="#1e1e1e" stroke-width="1"/>
<ellipse cx="754.5" cy="1126.3" rx="6.2" ry="9.4" fill="#619CFF" stroke="#1e1e1e" stroke-width="1"/>
<ellipse cx="747.75" cy="1177.8" rx="6.2" ry="9.4" fill="#619CFF" stroke="#1e1e1e" stroke-width="1"/>
<ellipse cx="761.25" cy="1177.8" rx="6.2" ry="9.4" fill="#619CFF" stroke="#1e1e1e" stroke-width="1"/>
<ellipse cx="747.75" cy="1217.3" rx="6.2" ry="9.4" fill="#619CFF" stroke="#1e1e1e" stroke-width="1"/>
<ellipse cx="761.25" cy="1217.3" rx="6.2" ry="9.4" fill="#619CFF" stroke="#1e1e1e" stroke-width="1"/>
<ellipse cx="747.75" cy="1289.6" rx="6.2" ry="9.4" fill="#619CFF" stroke="#1e1e1e" stroke-width="1"/>
<ellipse cx="761.25" cy="1289.6" rx="6.2" ry="9.4" fill="#619CFF" stroke="#1e1e1e" stroke-width="1"/>
<ellipse cx="720.75" cy="1335.3" rx="6.2" ry="9.4" fill="#619CFF" stroke="#1e1e1e" stroke-width="1"/>
<ellipse cx="734.25" cy="1335.3" rx="6.2" ry="9.4" fill="#619CFF" stroke="#1e1e1e" stroke-width="1"/>
<ellipse cx="747.75" cy="1335.3" rx="6.2" ry="9.4" fill="#619CFF" stroke="#1e1e1e" stroke-width="1"/>
<ellipse cx="761.25" cy="1335.3" rx="6.2" ry="9.4" fill="#619CFF" stroke="#1e1e1e" stroke-width="1"/>
<ellipse cx="774.75" cy="1335.3" rx="6.2" ry="9.4" fill="#619CFF" stroke="#1e1e1e" stroke-width="1"/>
<ellipse cx="788.25" cy="1335.3" rx="6.2" ry="9.4" fill="#619CFF" stroke="#1e1e1e" stroke-width="1"/>
<ellipse cx="747.75" cy="1372.2" rx="6.2" ry="9.4" fill="#619CFF" stroke="#1e1e1e" stroke-width="1"/>
<ellipse cx="761.25" cy="1372.2" rx="6.2" ry="9.4" fill="#619CFF" stroke="#1e1e1e" stroke-width="1"/>
<ellipse cx="747.75" cy="1396.6" rx="6.2" ry="9.4" fill="#619CFF" stroke="#1e1e1e" stroke-width="1"/>
<ellipse cx="761.25" cy="1396.6" rx="6.2" ry="9.4" fill="#619CFF" stroke="#1e1e1e" stroke-width="1"/>
<ellipse cx="727.5" cy="1412.5" rx="6.2" ry="9.4" fill="#619CFF" stroke="#1e1e1e" stroke-width="1"/>
<ellipse cx="741" cy="1412.5" rx="6.2" ry="9.4" fill="#619CFF" stroke="#1e1e1e" stroke-width="1"/>
<ellipse cx="754.5" cy="1412.5" rx="6.2" ry="9.4" fill="#619CFF" stroke="#1e1e1e" stroke-width="1"/>
<ellipse cx="768" cy="1412.5" rx="6.2" ry="9.4" fill="#619CFF" stroke="#1e1e1e" stroke-width="1"/>
<ellipse cx="781.5" cy="1412.5" rx="6.2" ry="9.4" fill="#619CFF" stroke="#1e1e1e" stroke-width="1"/>
<ellipse cx="754.5" cy="1439.9" rx="6.2" ry="9.4" fill="#619CFF" stroke="#1e1e1e" stroke-width="1"/>
<ellipse cx="754.5" cy="1518.8" rx="6.2" ry="9.4" fill="#619CFF" stroke="#1e1e1e" stroke-width="1"/>
<text transform="translate(799.57 1071.8) scale(0.6621 1)" font-family="'Liberation Serif', 'Times New Roman', serif" font-weight="bold" font-size="25.7" fill="#231a1a">Group</text>
<line x1="817.1" y1="1091.1" x2="817.1" y2="1098.1" stroke="#333333" stroke-width="2.8" stroke-linecap="butt"/>
<line x1="817.1" y1="1127.8" x2="817.1" y2="1133.8" stroke="#333333" stroke-width="2.8" stroke-linecap="butt"/>
<rect x="801.4" y="1099.4" width="32" height="27.1" fill="#F8766D" stroke="#333333" stroke-width="2.6"/>
<line x1="802.7" y1="1112.95" x2="832.1" y2="1112.95" stroke="#1a1010" stroke-width="2.2" stroke-linecap="butt"/>
<ellipse cx="817.1" cy="1112.95" rx="8.3" ry="9" fill="#F8766D" stroke="#1a1010" stroke-width="2.6"/>
<text transform="translate(848.86 1119.9) scale(0.7097 1)" font-family="'Liberation Serif', 'Times New Roman', serif" font-weight="bold" font-size="24.2" fill="#231a1a">CHB</text>
<line x1="817.1" y1="1145.7" x2="817.1" y2="1152.7" stroke="#333333" stroke-width="2.8" stroke-linecap="butt"/>
<line x1="817.1" y1="1181.7" x2="817.1" y2="1187.7" stroke="#333333" stroke-width="2.8" stroke-linecap="butt"/>
<rect x="801.4" y="1154" width="32" height="26.4" fill="#00BA38" stroke="#333333" stroke-width="2.6"/>
<line x1="802.7" y1="1167.2" x2="832.1" y2="1167.2" stroke="#1a1010" stroke-width="2.2" stroke-linecap="butt"/>
<ellipse cx="817.1" cy="1167.2" rx="8.3" ry="9" fill="#00BA38" stroke="#1a1010" stroke-width="2.6"/>
<text transform="translate(853.46 1174) scale(0.6822 1)" font-family="'Liberation Serif', 'Times New Roman', serif" font-weight="bold" font-size="24.2" fill="#231a1a">DP</text>
<line x1="817.1" y1="1193.6" x2="817.1" y2="1200.6" stroke="#333333" stroke-width="2.8" stroke-linecap="butt"/>
<line x1="817.1" y1="1230.8" x2="817.1" y2="1236.8" stroke="#333333" stroke-width="2.8" stroke-linecap="butt"/>
<rect x="801.4" y="1201.9" width="32" height="27.6" fill="#619CFF" stroke="#333333" stroke-width="2.6"/>
<line x1="802.7" y1="1215.7" x2="832.1" y2="1215.7" stroke="#1a1010" stroke-width="2.2" stroke-linecap="butt"/>
<ellipse cx="817.1" cy="1215.7" rx="8.3" ry="9" fill="#619CFF" stroke="#1a1010" stroke-width="2.6"/>
<text transform="translate(854.57 1222.5) scale(0.7233 1)" font-family="'Liberation Serif', 'Times New Roman', serif" font-weight="bold" font-size="24.2" fill="#231a1a">SP</text>
<text transform="translate(1171.88 809) scale(0.9783 1)" font-family="'Liberation Sans', Arial, sans-serif" font-weight="bold" font-size="37" fill="#000">f.</text>
<circle cx="1268.6" cy="802.7" r="1.2" fill="#333"/>
<line x1="1378.3" y1="828" x2="1378.3" y2="1681.6" stroke="#000" stroke-width="3" stroke-linecap="butt"/>
<line x1="1376.8" y1="1680.1" x2="1887.3" y2="1680.1" stroke="#000" stroke-width="3" stroke-linecap="butt"/>
<line x1="1473.5" y1="1681.6" x2="1473.5" y2="1684.6" stroke="#bbbbbb" stroke-width="1" stroke-linecap="butt"/>
<line x1="1632.4" y1="1681.6" x2="1632.4" y2="1684.6" stroke="#bbbbbb" stroke-width="1" stroke-linecap="butt"/>
<line x1="1791.7" y1="1681.6" x2="1791.7" y2="1684.6" stroke="#bbbbbb" stroke-width="1" stroke-linecap="butt"/>
<text transform="translate(1329 1016.7) scale(0.7148 1)" font-family="'Liberation Serif', 'Times New Roman', serif" font-weight="normal" font-size="26.63" fill="#231a1a" stroke="#231a1a" stroke-width="1.2" stroke-linejoin="round">0.006</text>
<text transform="translate(1329.01 1226.7) scale(0.7103 1)" font-family="'Liberation Serif', 'Times New Roman', serif" font-weight="normal" font-size="26.63" fill="#231a1a" stroke="#231a1a" stroke-width="1.2" stroke-linejoin="round">0.004</text>
<text transform="translate(1328.29 1433.6) scale(0.7384 1)" font-family="'Liberation Serif', 'Times New Roman', serif" font-weight="normal" font-size="26.63" fill="#231a1a" stroke="#231a1a" stroke-width="1.2" stroke-linejoin="round">0.002</text>
<text transform="translate(1328.3 1633.1) scale(0.7327 1)" font-family="'Liberation Serif', 'Times New Roman', serif" font-weight="normal" font-size="26.63" fill="#231a1a" stroke="#231a1a" stroke-width="1.2" stroke-linejoin="round">0.000</text>
<text transform="translate(1321.5 1298.11) rotate(-90) scale(0.8223 1)" font-family="'Liberation Sans', Arial, sans-serif" font-weight="bold" font-size="32.9" fill="#231a1a">Precent</text>
<text transform="translate(1452.91 1719.7) scale(0.6881 1)" font-family="'Liberation Sans', Arial, sans-serif" font-weight="normal" font-size="28.3" fill="#231a1a">CHB</text>
<text transform="translate(1618.58 1719.7) scale(0.6986 1)" font-family="'Liberation Sans', Arial, sans-serif" font-weight="normal" font-size="28.3" fill="#231a1a">DP</text>
<text transform="translate(1781.7 1719.7) scale(0.6977 1)" font-family="'Liberation Sans', Arial, sans-serif" font-weight="normal" font-size="28.3" fill="#231a1a">SP</text>
<text transform="translate(1600.19 1753.6) scale(0.7127 1)" font-family="'Liberation Sans', Arial, sans-serif" font-weight="normal" font-size="40.5" fill="#231a1a">group</text>
<text transform="translate(1578.47 1794) scale(0.9672 1)" font-family="'Liberation Sans', Arial, sans-serif" font-weight="bold" font-size="32.9" fill="#000">BCR_90</text>
<path d="M1473.4 1029.5 V1011 H1792 V1029.5" fill="none" stroke="#000" stroke-width="3.0"/>
<text transform="translate(1628.13 1011.3) scale(0.6597 1)" font-family="'Liberation Serif', 'Times New Roman', serif" font-weight="bold" font-size="39.26" fill="#000">*</text>
<line x1="1791.8" y1="1249" x2="1791.8" y2="1273" stroke="#333" stroke-width="2.2" stroke-linecap="butt"/>
<line x1="1473.5" y1="1253.2" x2="1473.5" y2="1589.6" stroke="#8c8c8c" stroke-width="1.6" stroke-linecap="butt"/>
<rect x="1414.9" y="1381.5" width="117.6" height="94.6" fill="#F8766D" stroke="#4a4444" stroke-width="1.4"/>
<line x1="1415.2" y1="1428.7" x2="1532.2" y2="1428.7" stroke="#333" stroke-width="2" stroke-linecap="butt"/>
<ellipse cx="1473.5" cy="1040.8" rx="6.2" ry="9.4" fill="#F8766D" stroke="#1e1e1e" stroke-width="1"/>
<ellipse cx="1473.5" cy="1195.2" rx="6.2" ry="9.4" fill="#F8766D" stroke="#1e1e1e" stroke-width="1"/>
<ellipse cx="1473.5" cy="1253.2" rx="6.2" ry="9.4" fill="#F8766D" stroke="#1e1e1e" stroke-width="1"/>
<ellipse cx="1473.5" cy="1315.9" rx="6.2" ry="9.4" fill="#F8766D" stroke="#1e1e1e" stroke-width="1"/>
<ellipse cx="1473.5" cy="1337.7" rx="6.2" ry="9.4" fill="#F8766D" stroke="#1e1e1e" stroke-width="1"/>
<ellipse cx="1460" cy="1384.1" rx="6.2" ry="9.4" fill="#F8766D" stroke="#1e1e1e" stroke-width="1"/>
<ellipse cx="1473.5" cy="1384.1" rx="6.2" ry="9.4" fill="#F8766D" stroke="#1e1e1e" stroke-width="1"/>
<ellipse cx="1487" cy="1384.1" rx="6.2" ry="9.4" fill="#F8766D" stroke="#1e1e1e" stroke-width="1"/>
<ellipse cx="1453.25" cy="1403.1" rx="6.2" ry="9.4" fill="#F8766D" stroke="#1e1e1e" stroke-width="1"/>
<ellipse cx="1466.75" cy="1403.1" rx="6.2" ry="9.4" fill="#F8766D" stroke="#1e1e1e" stroke-width="1"/>
<ellipse cx="1480.25" cy="1403.1" rx="6.2" ry="9.4" fill="#F8766D" stroke="#1e1e1e" stroke-width="1"/>
<ellipse cx="1493.75" cy="1403.1" rx="6.2" ry="9.4" fill="#F8766D" stroke="#1e1e1e" stroke-width="1"/>
<ellipse cx="1466.75" cy="1448.6" rx="6.2" ry="9.4" fill="#F8766D" stroke="#1e1e1e" stroke-width="1"/>
<ellipse cx="1480.25" cy="1448.6" rx="6.2" ry="9.4" fill="#F8766D" stroke="#1e1e1e" stroke-width="1"/>
<ellipse cx="1453.25" cy="1463.3" rx="6.2" ry="9.4" fill="#F8766D" stroke="#1e1e1e" stroke-width="1"/>
<ellipse cx="1466.75" cy="1463.3" rx="6.2" ry="9.4" fill="#F8766D" stroke="#1e1e1e" stroke-width="1"/>
<ellipse cx="1480.25" cy="1463.3" rx="6.2" ry="9.4" fill="#F8766D" stroke="#1e1e1e" stroke-width="1"/>
<ellipse cx="1493.75" cy="1463.3" rx="6.2" ry="9.4" fill="#F8766D" stroke="#1e1e1e" stroke-width="1"/>
<ellipse cx="1473.5" cy="1496.5" rx="6.2" ry="9.4" fill="#F8766D" stroke="#1e1e1e" stroke-width="1"/>
<ellipse cx="1473.5" cy="1534.6" rx="6.2" ry="9.4" fill="#F8766D" stroke="#1e1e1e" stroke-width="1"/>
<ellipse cx="1453.25" cy="1589.6" rx="6.2" ry="9.4" fill="#F8766D" stroke="#1e1e1e" stroke-width="1"/>
<ellipse cx="1466.75" cy="1589.6" rx="6.2" ry="9.4" fill="#F8766D" stroke="#1e1e1e" stroke-width="1"/>
<ellipse cx="1480.25" cy="1589.6" rx="6.2" ry="9.4" fill="#F8766D" stroke="#1e1e1e" stroke-width="1"/>
<ellipse cx="1493.75" cy="1589.6" rx="6.2" ry="9.4" fill="#F8766D" stroke="#1e1e1e" stroke-width="1"/>
<line x1="1632.7" y1="1200" x2="1632.7" y2="1602.7" stroke="#8c8c8c" stroke-width="1.6" stroke-linecap="butt"/>
<rect x="1573.8" y="1398.2" width="118.1" height="164.8" fill="#00BA38" stroke="#4a4444" stroke-width="1.4"/>
<line x1="1574.1" y1="1496.6" x2="1691.6" y2="1496.6" stroke="#333" stroke-width="2" stroke-linecap="butt"/>
<ellipse cx="1632.7" cy="1200" rx="6.2" ry="9.4" fill="#00BA38" stroke="#1e1e1e" stroke-width="1"/>
<ellipse cx="1619.2" cy="1326.7" rx="6.2" ry="9.4" fill="#00BA38" stroke="#1e1e1e" stroke-width="1"/>
<ellipse cx="1632.7" cy="1326.7" rx="6.2" ry="9.4" fill="#00BA38" stroke="#1e1e1e" stroke-width="1"/>
<ellipse cx="1646.2" cy="1326.7" rx="6.2" ry="9.4" fill="#00BA38" stroke="#1e1e1e" stroke-width="1"/>
<ellipse cx="1625.95" cy="1378.7" rx="6.2" ry="9.4" fill="#00BA38" stroke="#1e1e1e" stroke-width="1"/>
<ellipse cx="1639.45" cy="1378.7" rx="6.2" ry="9.4" fill="#00BA38" stroke="#1e1e1e" stroke-width="1"/>
<ellipse cx="1625.95" cy="1401.3" rx="6.2" ry="9.4" fill="#00BA38" stroke="#1e1e1e" stroke-width="1"/>
<ellipse cx="1639.45" cy="1401.3" rx="6.2" ry="9.4" fill="#00BA38" stroke="#1e1e1e" stroke-width="1"/>
<ellipse cx="1619.2" cy="1461.2" rx="6.2" ry="9.4" fill="#00BA38" stroke="#1e1e1e" stroke-width="1"/>
<ellipse cx="1632.7" cy="1461.2" rx="6.2" ry="9.4" fill="#00BA38" stroke="#1e1e1e" stroke-width="1"/>
<ellipse cx="1646.2" cy="1461.2" rx="6.2" ry="9.4" fill="#00BA38" stroke="#1e1e1e" stroke-width="1"/>
<ellipse cx="1612.45" cy="1497.1" rx="6.2" ry="9.4" fill="#00BA38" stroke="#1e1e1e" stroke-width="1"/>
<ellipse cx="1625.95" cy="1497.1" rx="6.2" ry="9.4" fill="#00BA38" stroke="#1e1e1e" stroke-width="1"/>
<ellipse cx="1639.45" cy="1497.1" rx="6.2" ry="9.4" fill="#00BA38" stroke="#1e1e1e" stroke-width="1"/>
<ellipse cx="1652.95" cy="1497.1" rx="6.2" ry="9.4" fill="#00BA38" stroke="#1e1e1e" stroke-width="1"/>
<ellipse cx="1612.45" cy="1534.3" rx="6.2" ry="9.4" fill="#00BA38" stroke="#1e1e1e" stroke-width="1"/>
<ellipse cx="1625.95" cy="1534.3" rx="6.2" ry="9.4" fill="#00BA38" stroke="#1e1e1e" stroke-width="1"/>
<ellipse cx="1639.45" cy="1534.3" rx="6.2" ry="9.4" fill="#00BA38" stroke="#1e1e1e" stroke-width="1"/>
<ellipse cx="1652.95" cy="1534.3" rx="6.2" ry="9.4" fill="#00BA38" stroke="#1e1e1e" stroke-width="1"/>
<ellipse cx="1625.95" cy="1573.6" rx="6.2" ry="9.4" fill="#00BA38" stroke="#1e1e1e" stroke-width="1"/>
<ellipse cx="1639.45" cy="1573.6" rx="6.2" ry="9.4" fill="#00BA38" stroke="#1e1e1e" stroke-width="1"/>
<ellipse cx="1605.7" cy="1602.7" rx="6.2" ry="9.4" fill="#00BA38" stroke="#1e1e1e" stroke-width="1"/>
<ellipse cx="1619.2" cy="1602.7" rx="6.2" ry="9.4" fill="#00BA38" stroke="#1e1e1e" stroke-width="1"/>
<ellipse cx="1632.7" cy="1602.7" rx="6.2" ry="9.4" fill="#00BA38" stroke="#1e1e1e" stroke-width="1"/>
<ellipse cx="1646.2" cy="1602.7" rx="6.2" ry="9.4" fill="#00BA38" stroke="#1e1e1e" stroke-width="1"/>
<ellipse cx="1659.7" cy="1602.7" rx="6.2" ry="9.4" fill="#00BA38" stroke="#1e1e1e" stroke-width="1"/>
<line x1="1791.8" y1="1341.1" x2="1791.8" y2="1631" stroke="#8c8c8c" stroke-width="1.6" stroke-linecap="butt"/>
<rect x="1732.8" y="1470.8" width="118.1" height="108.1" fill="#619CFF" stroke="#4a4444" stroke-width="1.4"/>
<line x1="1733.1" y1="1524.6" x2="1850.6" y2="1524.6" stroke="#333" stroke-width="2" stroke-linecap="butt"/>
<ellipse cx="1785.05" cy="1260.8" rx="6.2" ry="9.4" fill="#619CFF" stroke="#1e1e1e" stroke-width="1"/>
<ellipse cx="1798.55" cy="1260.8" rx="6.2" ry="9.4" fill="#619CFF" stroke="#1e1e1e" stroke-width="1"/>
<ellipse cx="1791.8" cy="1341.1" rx="6.2" ry="9.4" fill="#619CFF" stroke="#1e1e1e" stroke-width="1"/>
<ellipse cx="1791.8" cy="1369.3" rx="6.2" ry="9.4" fill="#619CFF" stroke="#1e1e1e" stroke-width="1"/>
<ellipse cx="1791.8" cy="1396.9" rx="6.2" ry="9.4" fill="#619CFF" stroke="#1e1e1e" stroke-width="1"/>
<ellipse cx="1791.8" cy="1420.4" rx="6.2" ry="9.4" fill="#619CFF" stroke="#1e1e1e" stroke-width="1"/>
<ellipse cx="1778.3" cy="1471.6" rx="6.2" ry="9.4" fill="#619CFF" stroke="#1e1e1e" stroke-width="1"/>
<ellipse cx="1791.8" cy="1471.6" rx="6.2" ry="9.4" fill="#619CFF" stroke="#1e1e1e" stroke-width="1"/>
<ellipse cx="1805.3" cy="1471.6" rx="6.2" ry="9.4" fill="#619CFF" stroke="#1e1e1e" stroke-width="1"/>
<ellipse cx="1785.05" cy="1509" rx="6.2" ry="9.4" fill="#619CFF" stroke="#1e1e1e" stroke-width="1"/>
<ellipse cx="1798.55" cy="1509" rx="6.2" ry="9.4" fill="#619CFF" stroke="#1e1e1e" stroke-width="1"/>
<ellipse cx="1764.8" cy="1531.5" rx="6.2" ry="9.4" fill="#619CFF" stroke="#1e1e1e" stroke-width="1"/>
<ellipse cx="1778.3" cy="1531.5" rx="6.2" ry="9.4" fill="#619CFF" stroke="#1e1e1e" stroke-width="1"/>
<ellipse cx="1791.8" cy="1531.5" rx="6.2" ry="9.4" fill="#619CFF" stroke="#1e1e1e" stroke-width="1"/>
<ellipse cx="1805.3" cy="1531.5" rx="6.2" ry="9.4" fill="#619CFF" stroke="#1e1e1e" stroke-width="1"/>
<ellipse cx="1818.8" cy="1531.5" rx="6.2" ry="9.4" fill="#619CFF" stroke="#1e1e1e" stroke-width="1"/>
<ellipse cx="1785.05" cy="1567.8" rx="6.2" ry="9.4" fill="#619CFF" stroke="#1e1e1e" stroke-width="1"/>
<ellipse cx="1798.55" cy="1567.8" rx="6.2" ry="9.4" fill="#619CFF" stroke="#1e1e1e" stroke-width="1"/>
<ellipse cx="1771.55" cy="1588" rx="6.2" ry="9.4" fill="#619CFF" stroke="#1e1e1e" stroke-width="1"/>
<ellipse cx="1785.05" cy="1588" rx="6.2" ry="9.4" fill="#619CFF" stroke="#1e1e1e" stroke-width="1"/>
<ellipse cx="1798.55" cy="1588" rx="6.2" ry="9.4" fill="#619CFF" stroke="#1e1e1e" stroke-width="1"/>
<ellipse cx="1812.05" cy="1588" rx="6.2" ry="9.4" fill="#619CFF" stroke="#1e1e1e" stroke-width="1"/>
<ellipse cx="1778.3" cy="1631" rx="6.2" ry="9.4" fill="#619CFF" stroke="#1e1e1e" stroke-width="1"/>
<ellipse cx="1791.8" cy="1631" rx="6.2" ry="9.4" fill="#619CFF" stroke="#1e1e1e" stroke-width="1"/>
<ellipse cx="1805.3" cy="1631" rx="6.2" ry="9.4" fill="#619CFF" stroke="#1e1e1e" stroke-width="1"/>
<text transform="translate(1823.17 1058) scale(0.6606 1)" font-family="'Liberation Serif', 'Times New Roman', serif" font-weight="bold" font-size="25.7" fill="#231a1a">Group</text>
<line x1="1840.4" y1="1076" x2="1840.4" y2="1083" stroke="#333333" stroke-width="2.8" stroke-linecap="butt"/>
<line x1="1840.4" y1="1114" x2="1840.4" y2="1120" stroke="#333333" stroke-width="2.8" stroke-linecap="butt"/>
<rect x="1825.3" y="1084.3" width="30.8" height="28.4" fill="#F8766D" stroke="#333333" stroke-width="2.6"/>
<line x1="1826.6" y1="1098.5" x2="1854.8" y2="1098.5" stroke="#1a1010" stroke-width="2.2" stroke-linecap="butt"/>
<ellipse cx="1840.4" cy="1098.5" rx="8.6" ry="8.9" fill="#F8766D" stroke="#1a1010" stroke-width="2.6"/>
<text transform="translate(1871.16 1106) scale(0.7117 1)" font-family="'Liberation Serif', 'Times New Roman', serif" font-weight="bold" font-size="24.2" fill="#231a1a">CHB</text>
<line x1="1840.4" y1="1129.6" x2="1840.4" y2="1136.6" stroke="#333333" stroke-width="2.8" stroke-linecap="butt"/>
<line x1="1840.4" y1="1168" x2="1840.4" y2="1174" stroke="#333333" stroke-width="2.8" stroke-linecap="butt"/>
<rect x="1825.3" y="1137.9" width="30.8" height="28.8" fill="#00BA38" stroke="#333333" stroke-width="2.6"/>
<line x1="1826.6" y1="1152.3" x2="1854.8" y2="1152.3" stroke="#1a1010" stroke-width="2.2" stroke-linecap="butt"/>
<ellipse cx="1840.4" cy="1152.3" rx="8.6" ry="8.9" fill="#00BA38" stroke="#1a1010" stroke-width="2.6"/>
<text transform="translate(1877.72 1159.5) scale(0.6581 1)" font-family="'Liberation Serif', 'Times New Roman', serif" font-weight="bold" font-size="24.2" fill="#231a1a">DP</text>
<line x1="1840.4" y1="1178" x2="1840.4" y2="1185" stroke="#333333" stroke-width="2.8" stroke-linecap="butt"/>
<line x1="1840.4" y1="1216.7" x2="1840.4" y2="1222.7" stroke="#333333" stroke-width="2.8" stroke-linecap="butt"/>
<rect x="1825.3" y="1186.3" width="30.8" height="29.1" fill="#619CFF" stroke="#333333" stroke-width="2.6"/>
<line x1="1826.6" y1="1200.85" x2="1854.8" y2="1200.85" stroke="#1a1010" stroke-width="2.2" stroke-linecap="butt"/>
<ellipse cx="1840.4" cy="1200.85" rx="8.6" ry="8.9" fill="#619CFF" stroke="#1a1010" stroke-width="2.6"/>
<text transform="translate(1878.57 1208.5) scale(0.7233 1)" font-family="'Liberation Serif', 'Times New Roman', serif" font-weight="bold" font-size="24.2" fill="#231a1a">SP</text>
</svg></body></html>
